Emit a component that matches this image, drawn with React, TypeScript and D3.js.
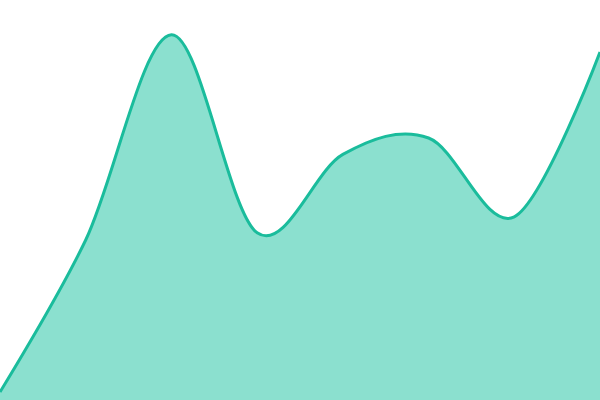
import React from "react";
import { area, curveCardinal, line, scaleLinear } from "d3";

const steps = [0, 1, 2, 3, 4, 5, 6, 7];
const values = [2, 40, 91.3, 41.8, 61.4, 65.5, 45.8, 87];

export default function App() {
  const width = 600;
  const height = 400;

  const x = scaleLinear().domain([0, steps.length - 1]).range([0, width]);
  const y = scaleLinear().domain([0, 100]).range([height, 0]);

  const pts = steps.map((s, i) => [s, values[i]] as [number, number]);

  const areaPath = area<[number, number]>()
    .x((d) => x(d[0]))
    .y0(height)
    .y1((d) => y(d[1]))
    .curve(curveCardinal)(pts);

  const linePath = line<[number, number]>()
    .x((d) => x(d[0]))
    .y((d) => y(d[1]))
    .curve(curveCardinal)(pts);

  return (
    <svg
      width={width}
      height={height}
      style={{ position: "absolute", left: 0, top: 0 }}
    >
      <path d={areaPath ?? ""} fill="#8be0cf" />
      <path d={linePath ?? ""} fill="none" stroke="#1abc9c" strokeWidth={3} />
    </svg>
  );
}
